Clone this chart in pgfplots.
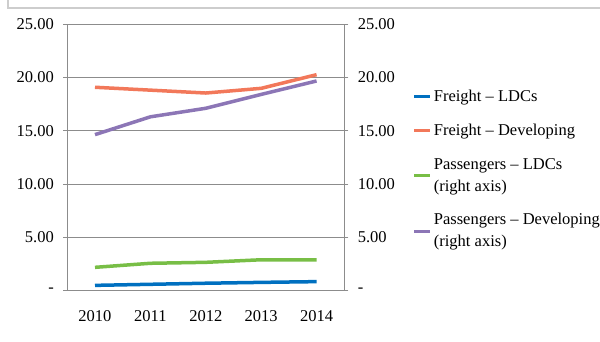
\documentclass[border=0pt]{standalone}
\usepackage{pgfplots}
\pgfplotsset{compat=1.18}
\usepackage{fontspec}
\setmainfont{Liberation Serif}

\definecolor{frLDC}{RGB}{0,112,192}
\definecolor{frDev}{RGB}{242,120,90}
\definecolor{paLDC}{RGB}{120,190,70}
\definecolor{paDev}{RGB}{140,118,182}
\definecolor{axisgray}{RGB}{140,140,140}
\definecolor{framegray}{RGB}{205,205,205}

\pgfplotsset{
  shared/.style={
    scale only axis,
    width=277pt, height=266.7pt,
    xmin=-0.5, xmax=4.5,
    ymin=0, ymax=25,
    ytick={0,5,...,25},
    axis line style={axisgray, line width=0.8pt},
    tick style={axisgray, line width=0.8pt},
    tick align=outside,
    major tick length=4pt,
    ticklabel style={font=\fontsize{16.5}{20}\selectfont},
    /pgf/number format/assume math mode=true,
  },
}

\begin{document}
\begin{tikzpicture}[x=1pt,y=1pt]
\useasboundingbox (0,0) rectangle (600,341);
% chart frame (top and left edges)
\draw[framegray, line width=1.2pt] (8,341) -- (8,333) -- (600,333);

% left axis: freight
\begin{axis}[shared,
  at={(67.3pt,50.3pt)}, anchor=south west,
  axis x line*=bottom, axis y line*=left,
  ymajorgrids, grid style={axisgray, line width=0.8pt},
  xtick={0,...,4}, xticklabels={2010,2011,2012,2013,2014},
  xtick style={draw=none},
  xticklabel style={yshift=-12pt},
  extra x ticks={-0.5,0.5,1.5,2.5,3.5,4.5},
  extra x tick labels={},
  extra x tick style={grid=none, major tick length=6pt, tick style={axisgray, line width=0.8pt}},
  yticklabels={-,5.00,10.00,15.00,20.00,25.00},
  yticklabel style={anchor=east, xshift=-6pt},
]
\addplot[frLDC, line width=3.5pt] coordinates {(0,0.50) (1,0.60) (2,0.70) (3,0.78) (4,0.85)};
\addplot[frDev, line width=3.5pt] coordinates {(0,19.07) (1,18.80) (2,18.53) (3,18.97) (4,20.25)};
\end{axis}

% right axis: passengers
\begin{axis}[shared,
  at={(67.3pt,50.3pt)}, anchor=south west,
  axis x line=none, axis y line*=right,
  yticklabels={-,5.00,10.00,15.00,20.00,25.00},
  yticklabel style={anchor=west, xshift=6pt},
  legend image code/.code={\draw[#1, line width=3pt] (0pt,0pt) -- (16pt,0pt);},
  legend style={draw=none, fill=none, at={(1.247,0.76)}, anchor=north west,
    font=\fontsize{16.5}{22}\selectfont, inner sep=0pt, row sep=17pt,
    cells={anchor=west, align=left}},
  legend cell align=left,
]
\addlegendimage{frLDC}
\addlegendentry{Freight – LDCs}
\addlegendimage{frDev}
\addlegendentry{Freight – Developing}
\addplot[paLDC, line width=3.5pt] coordinates {(0,2.19) (1,2.57) (2,2.66) (3,2.90) (4,2.90)};
\addlegendentry{Passengers – LDCs\\(right axis)}
\addplot[paDev, line width=3.5pt] coordinates {(0,14.63) (1,16.30) (2,17.10) (3,18.40) (4,19.66)};
\addlegendentry{Passengers – Developing\\(right axis)}
\end{axis}
\end{tikzpicture}
\end{document}
